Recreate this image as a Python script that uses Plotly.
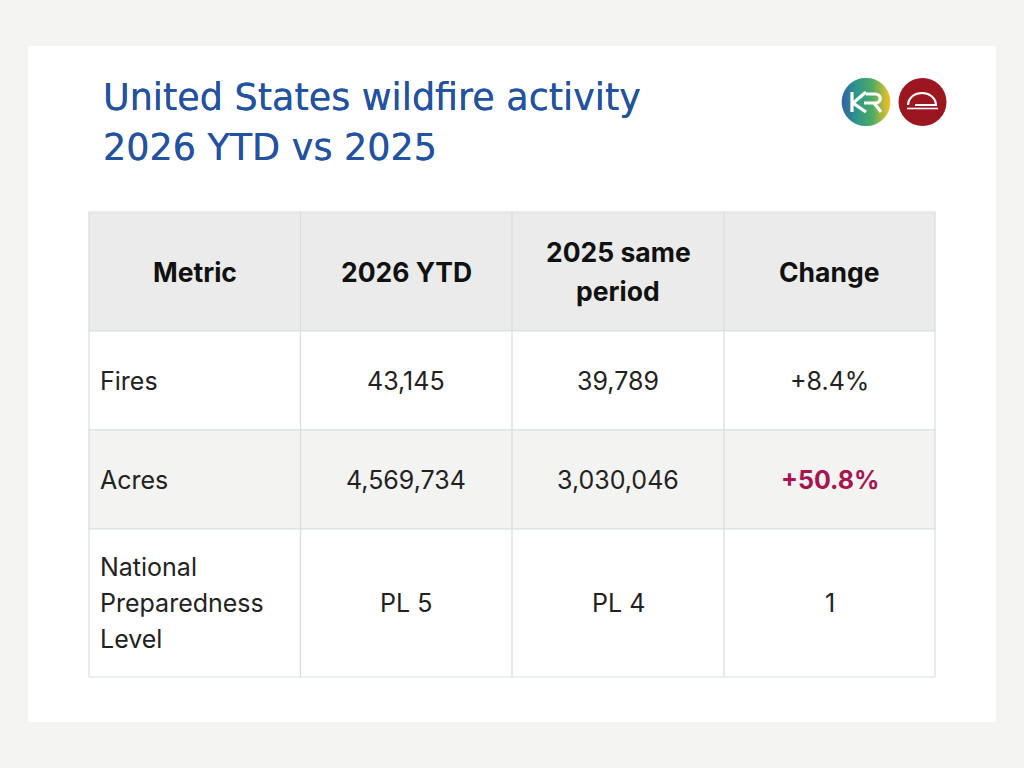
import math
import plotly.graph_objects as go

title_lines = ["United States wildfire activity", "2026 YTD vs 2025"]
headers = [["Metric"], ["2026 YTD"], ["2025 same", "period"], ["Change"]]
metrics = [["Fires"], ["Acres"], ["National", "Preparedness", "Level"]]
ytd_2026 = ["43,145", "4,569,734", "PL 5"]
same_2025 = ["39,789", "3,030,046", "PL 4"]
change = ["+8.4%", "+50.8%", "1"]

col_edges = [89, 300.5, 512, 724, 935]
row_edges = [212, 331, 430, 529, 677]
row_fills = ["#ebebeb", "#ffffff", "#f3f3f2", "#ffffff"]
border = "#d6dfe0"
body_font = "Inter"
title_font = "DejaVu Sans"
text_col = "#222222"
kr_stops = [(0, (37, 85, 159)), (0.3, (31, 143, 132)), (0.65, (70, 165, 90)), (0.85, (170, 180, 50)), (1, (245, 185, 20))]

fig = go.Figure()
shapes = []
notes = []


def add_text(x, y, s, size=25, color=text_col, anchor="center", font=body_font, shadow=None):
    f = dict(family=font, size=size, color=color)
    if shadow:
        f["shadow"] = shadow
    notes.append(dict(x=x, y=y, xref="x", yref="y", text=s, showarrow=False, xanchor=anchor,
                      yanchor="middle", font=f))


def add_cell(col, row, lines, line_gap, anchor="center", size=25, color=text_col):
    mid = (row_edges[row] + row_edges[row + 1]) / 2
    if anchor == "left":
        x = col_edges[col] + 9
    else:
        x = (col_edges[col] + col_edges[col + 1]) / 2
    for i, line in enumerate(lines):
        add_text(x, mid + (i - (len(lines) - 1) / 2) * line_gap, line, size, color, anchor)


def kr_colour(t):
    for (a, ca), (b, cb) in zip(kr_stops, kr_stops[1:]):
        if t <= b:
            f = (t - a) / (b - a)
            rgb = [round(p + (q - p) * f) for p, q in zip(ca, cb)]
            return "rgb(%d,%d,%d)" % tuple(rgb)
    return "rgb(245,185,20)"


# card behind everything
shapes.append(dict(type="rect", x0=28, x1=996, y0=46, y1=722, fillcolor="#ffffff", line_width=0))

# row backgrounds and grid
for r in range(len(row_fills)):
    shapes.append(dict(type="rect", x0=col_edges[0], x1=col_edges[-1], y0=row_edges[r], y1=row_edges[r + 1],
                       fillcolor=row_fills[r], line=dict(color=border, width=1.2)))
for x in col_edges[1:-1]:
    shapes.append(dict(type="line", x0=x, x1=x, y0=row_edges[0], y1=row_edges[-1], line=dict(color=border, width=1.2)))

for c, h in enumerate(headers):
    add_cell(c, 0, ["<b>%s</b>" % s for s in h], 39, size=26.5, color="#111111")

for r in range(len(metrics)):
    add_cell(0, r + 1, metrics[r], 36, anchor="left")
    add_cell(1, r + 1, [ytd_2026[r]], 36)
    add_cell(2, r + 1, [same_2025[r]], 36)
    if change[r] == "+50.8%":
        add_cell(3, r + 1, ["<b>%s</b>" % change[r]], 36, color="#a8144f")
    else:
        add_cell(3, r + 1, [change[r]], 36)

title_shadow = "0 0 0.6px #2352a0"
add_text(101, 97, title_lines[0], 36.5, "#2352a0", "left", title_font, title_shadow)
add_text(101, 147, title_lines[1], 36.5, "#2352a0", "left", title_font, title_shadow)

# red logo
shapes.append(dict(type="circle", x0=898.5, x1=946.5, y0=78, y1=126, fillcolor="#9c1620", line_width=0))
shapes.append(dict(type="path", path="M 908 105 C 909 89 935 89 936 105 L 915 105", line=dict(color="#ffffff", width=2.2)))
shapes.append(dict(type="line", x0=907, x1=938, y0=108.5, y1=108.5, line=dict(color="#ffffff", width=1.6)))

# KR logo, gradient circle as thin strips
kr_x, kr_y, kr_r = 866, 102, 24
for i in range(kr_r * 4):
    dx = -kr_r + (i + 0.5) / 2
    half = math.sqrt(kr_r ** 2 - dx ** 2)
    shapes.append(dict(type="line", x0=kr_x + dx, x1=kr_x + dx, y0=kr_y - half, y1=kr_y + half,
                       line=dict(color=kr_colour((i + 0.5) / (kr_r * 4)), width=0.9)))
shapes.append(dict(type="path", path="M 852 92 L 852 112 M 866 92 L 853 103 L 866 112 M 864 103 L 875 103 "
                                     "C 882 103 882 94 875 94 L 866 94 M 874 103 L 881 112",
                   line=dict(color="#ffffff", width=3.2)))

fig.update_layout(
    width=1024, height=768, margin=dict(l=0, r=0, t=0, b=0),
    paper_bgcolor="#f4f4f2", plot_bgcolor="#f4f4f2",
    showlegend=False, shapes=shapes, annotations=notes,
    xaxis=dict(range=[0, 1024], visible=False, fixedrange=True),
    yaxis=dict(range=[768, 0], visible=False, fixedrange=True),
)

fig.write_html("out.html", config={"displayModeBar": False},
               post_script="document.body.style.margin='0';document.body.style.overflow='hidden';")
